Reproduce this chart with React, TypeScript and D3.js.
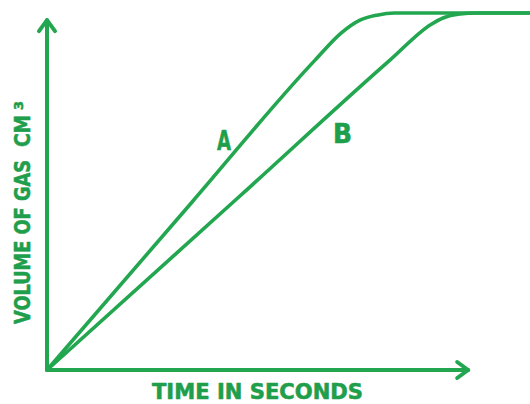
import React from 'react';
import * as d3 from 'd3';

// values (time in s, volume in cm3, plateau = 100)
const timeA = [0, 30, 55.5, 61, 64.8, 68.3, 72, 101];
const volumeA = [0, 47, 86.8, 94.5, 98, 99.4, 100, 100];
const timeB = [0, 40, 71, 79.5, 82, 85.5, 89, 101];
const volumeB = [0, 48.8, 86.8, 96.8, 98.6, 99.7, 100, 100];

const xAxisEnd = 87.2;
const yAxisEnd = 98;

const W = 530;
const H = 404;
const green = '#22a64f';
const textGreen = '#1f9e4c';

const x = d3.scaleLinear().domain([0, 100]).range([47, 530]);
const y = d3.scaleLinear().domain([0, 100]).range([370, 13]);

const line = d3
  .line<[number, number]>()
  .x((d) => x(d[0]))
  .y((d) => y(d[1]))
  .curve(d3.curveMonotoneX);

const seriesA = timeA.map((t, i) => [t, volumeA[i]] as [number, number]);
const seriesB = timeB.map((t, i) => [t, volumeB[i]] as [number, number]);

export default function App() {
  const x0 = x(0);
  const y0 = y(0);
  const xTip = x(xAxisEnd);
  const yTip = y(yAxisEnd);
  const font = '"DejaVu Sans", Verdana, sans-serif';

  return (
    <svg
      width={W}
      height={H}
      style={{ position: 'absolute', left: 0, top: 0, background: '#fff' }}
    >
      {/* axes */}
      <g stroke={green} strokeWidth={4} strokeLinecap="round" strokeLinejoin="round" fill="none">
        <line x1={x0} y1={y0} x2={x0} y2={yTip} />
        <polyline points={`${x0 - 8},${yTip + 11} ${x0},${yTip} ${x0 + 8},${yTip + 11}`} />
        <line x1={x0} y1={y0} x2={xTip} y2={y0} />
        <polyline points={`${xTip - 11},${y0 - 8} ${xTip},${y0} ${xTip - 11},${y0 + 8}`} />
      </g>

      {/* curves */}
      <g stroke={green} strokeWidth={3.6} strokeLinecap="round" fill="none">
        <path d={line(seriesA) ?? ''} />
        <path d={line(seriesB) ?? ''} />
      </g>

      {/* labels */}
      <g
        fill={textGreen}
        stroke={textGreen}
        strokeWidth={0.6}
        strokeLinejoin="round"
        fontFamily={font}
        fontWeight="bold"
      >
        <text x={217} y={150} fontSize={26} textLength={14} lengthAdjust="spacingAndGlyphs">
          A
        </text>
        <text x={333} y={143} fontSize={26} textLength={19} lengthAdjust="spacingAndGlyphs">
          B
        </text>
        <text x={152} y={399} fontSize={22} textLength={211} lengthAdjust="spacingAndGlyphs">
          TIME IN SECONDS
        </text>
        <g transform="translate(30,324) rotate(-90)">
          <text x={0} y={0} fontSize={21} textLength={164} lengthAdjust="spacingAndGlyphs">
            VOLUME OF GAS
          </text>
          <text x={177} y={0} fontSize={21} textLength={32} lengthAdjust="spacingAndGlyphs">
            CM
          </text>
          <text x={214} y={-7} fontSize={13} textLength={9} lengthAdjust="spacingAndGlyphs">
            3
          </text>
        </g>
      </g>
    </svg>
  );
}
